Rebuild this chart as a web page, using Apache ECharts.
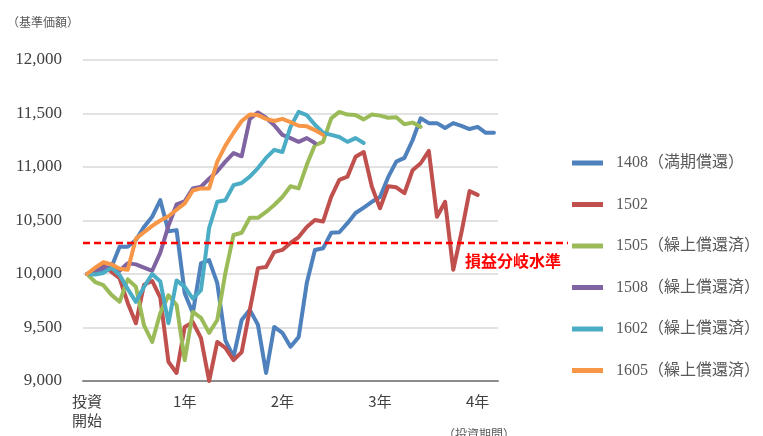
<!DOCTYPE html>
<html>
<head>
<meta charset="utf-8">
<script src="https://cdn.jsdelivr.net/npm/echarts@6/dist/echarts.min.js"></script>
<style>
  html, body { margin: 0; padding: 0; background: #ffffff; }
  #chart { width: 763px; height: 436px; }
</style>
</head>
<body>
<div id="chart"></div>
<script>
// Months since investment start (0 .. 50)
const monthCount = 51;
const xTickMonths = [0, 12, 24, 36, 48];
const xTickLabels = ['投資\n開始', '1年', '2年', '3年', '4年'];

// Value axis (基準価額)
const yMin = 9000;
const yMax = 12000;
const yStep = 500;

// Break-even level
const breakEven = 10290;
const breakEvenLabel = '損益分岐水準';

const seriesNames = [
  '1408（満期償還）',
  '1502',
  '1505（繰上償還済）',
  '1508（繰上償還済）',
  '1602（繰上償還済）',
  '1605（繰上償還済）'
];
const seriesColors = ['#4F81BD', '#C0504D', '#9BBB59', '#8064A2', '#4BACC6', '#F79646'];

// Monthly NAV per fund
const nav1408 = [10000, 10010, 10040, 10065, 10255, 10255, 10318, 10440, 10535, 10690,
  10400, 10410, 9820, 9635, 10100, 10130, 9915, 9380, 9225, 9570,
  9665, 9525, 9075, 9505, 9450, 9320, 9410, 9915, 10225, 10240,
  10385, 10390, 10475, 10570, 10620, 10675, 10720, 10905, 11050, 11085,
  11250, 11455, 11410, 11410, 11365, 11410, 11385, 11355, 11375, 11320, 11320];
const nav1502 = [10000, 10040, 10080, 10020, 9960, 9730, 9540, 9900, 9935, 9780,
  9180, 9075, 9505, 9550, 9400, 9000, 9365, 9310, 9195, 9270,
  9665, 10055, 10065, 10205, 10225, 10290, 10345, 10440, 10505, 10490,
  10720, 10880, 10910, 11095, 11140, 10815, 10615, 10820, 10810, 10755,
  10970, 11035, 11150, 10535, 10675, 10040, 10385, 10775, 10740];
const nav1505 = [10000, 9925, 9895, 9805, 9740, 9950, 9880, 9520, 9365, 9635,
  9800, 9710, 9195, 9645, 9590, 9450, 9570, 10010, 10365, 10385,
  10525, 10525, 10580, 10645, 10720, 10820, 10800, 11020, 11205, 11235,
  11455, 11515, 11490, 11485, 11445, 11490, 11480, 11460, 11465, 11400,
  11415, 11375];
const nav1508 = [10000, 10030, 10060, 10060, 10030, 10100, 10090, 10060, 10030, 10200,
  10450, 10650, 10680, 10800, 10815, 10890, 10960, 11050, 11130, 11100,
  11450, 11510, 11460, 11390, 11300, 11270, 11235, 11270, 11225];
const nav1602 = [10000, 9995, 10010, 10060, 9990, 9860, 9740, 9880, 10000, 9930,
  9540, 9940, 9880, 9770, 9850, 10430, 10675, 10690, 10830, 10850,
  10910, 10990, 11085, 11160, 11140, 11375, 11515, 11485, 11395, 11320,
  11300, 11280, 11235, 11270, 11225];
const nav1605 = [10000, 10060, 10110, 10090, 10050, 10040, 10330, 10390, 10450, 10500,
  10540, 10600, 10660, 10780, 10800, 10800, 11050, 11200, 11320, 11430,
  11490, 11485, 11450, 11430, 11450, 11420, 11385, 11380, 11345, 11300];

const seriesValues = [nav1408, nav1502, nav1505, nav1508, nav1602, nav1605];

const months = [];
for (let i = 0; i < monthCount; i++) months.push(String(i));

const tickLabelByMonth = {};
xTickMonths.forEach((m, i) => { tickLabelByMonth[m] = xTickLabels[i]; });

const serifFont = "'Liberation Serif', 'Noto Sans CJK JP', serif";
const cjkFont = "'Noto Sans CJK JP', sans-serif";

const chart = echarts.init(document.getElementById('chart'), null, { renderer: 'canvas' });

const option = {
  animation: false,
  backgroundColor: '#ffffff',
  grid: {
    left: 83,
    right: 265,
    top: 60,
    bottom: 55,
    containLabel: false,
    outerBoundsMode: 'none'
  },
  xAxis: {
    type: 'category',
    data: months,
    boundaryGap: true,
    axisLine: { show: true, lineStyle: { color: '#8c8c8c', width: 2 } },
    axisTick: { show: false },
    splitLine: { show: false },
    axisLabel: {
      interval: (index) => tickLabelByMonth[index] !== undefined,
      formatter: (value) => tickLabelByMonth[Number(value)] || '',
      color: '#404040',
      fontFamily: cjkFont,
      fontSize: 15,
      lineHeight: 19,
      margin: 11
    }
  },
  yAxis: {
    type: 'value',
    min: yMin,
    max: yMax,
    interval: yStep,
    axisLine: { show: false },
    axisTick: { show: false },
    splitLine: { show: true, lineStyle: { color: '#d9d9d9', width: 1.5 } },
    axisLabel: {
      color: '#404040',
      fontFamily: serifFont,
      fontSize: 17,
      margin: 21,
      formatter: (v) => v.toLocaleString('en-US')
    }
  },
  legend: {
    orient: 'vertical',
    left: 567,
    top: 150,
    itemWidth: 31,
    itemHeight: 5,
    itemGap: 25.5,
    icon: 'rect',
    data: seriesNames,
    formatter: (name) => '{t|' + name + '}',
    textStyle: {
      rich: {
        t: {
          color: '#595959',
          fontFamily: serifFont,
          fontSize: 16,
          lineHeight: 16,
          padding: [0, 0, 0, 8]
        }
      }
    }
  },
  series: seriesNames.map((name, i) => ({
    name: name,
    type: 'line',
    data: seriesValues[i],
    symbol: 'none',
    smooth: false,
    color: seriesColors[i],
    lineStyle: { width: 4, color: seriesColors[i], cap: 'round', join: 'round' },
    emphasis: { disabled: true }
  }))
};

chart.setOption(option);

// Break-even line extends from the plot into the legend area; its height
// comes from the value axis.
const yBreak = chart.convertToPixel({ yAxisIndex: 0 }, breakEven);
chart.setOption({
  graphic: [
    {
      type: 'line',
      z: 100,
      shape: { x1: 83, y1: yBreak, x2: 568, y2: yBreak },
      style: { stroke: '#ff0000', lineWidth: 2.5, lineDash: [7, 4] }
    },
    {
      type: 'text',
      z: 100,
      left: 465,
      top: yBreak + 10,
      style: {
        text: breakEvenLabel,
        fill: '#ff0000',
        font: "bold 16px 'Noto Sans CJK JP', sans-serif"
      }
    },
    {
      type: 'text',
      left: 7,
      top: 16,
      style: {
        text: '（基準価額）',
        fill: '#595959',
        font: "12px 'Noto Sans CJK JP', sans-serif"
      }
    },
    {
      type: 'text',
      left: 443,
      top: 428,
      style: {
        text: '（投資期間）',
        fill: '#595959',
        font: "12px 'Noto Sans CJK JP', sans-serif"
      }
    }
  ]
});
</script>
</body>
</html>
